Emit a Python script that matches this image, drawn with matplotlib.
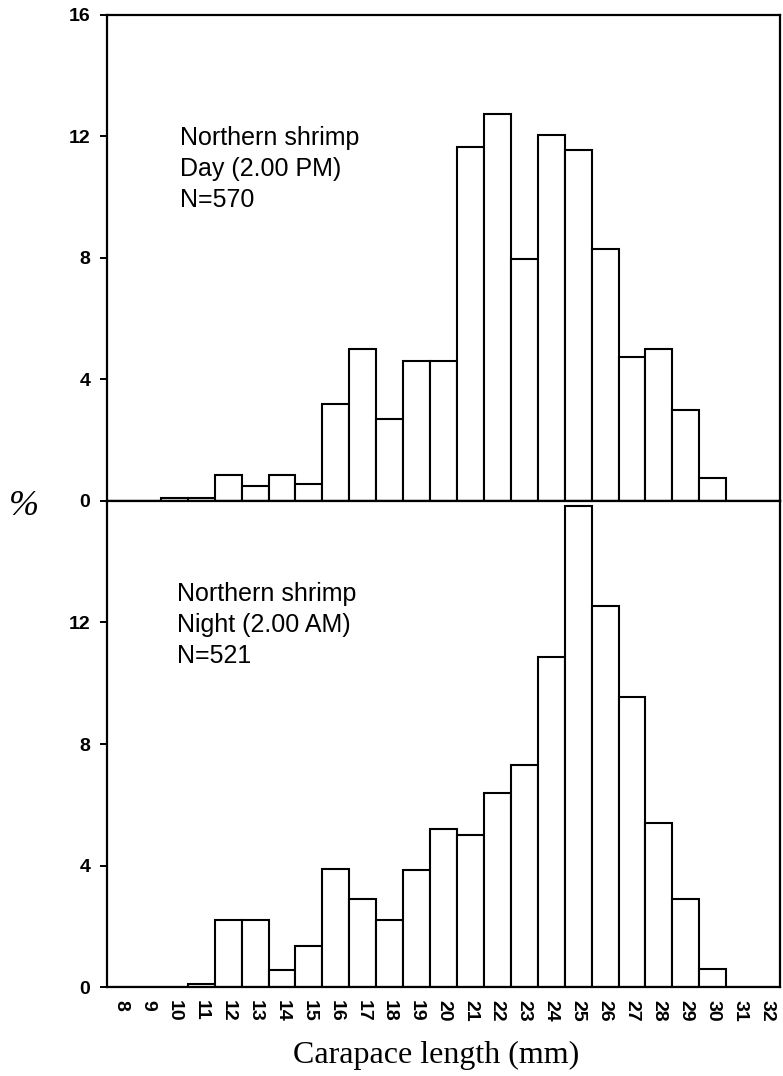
import matplotlib
matplotlib.use("Agg")
import matplotlib.pyplot as plt

# carapace length classes (mm) and percentage frequency
lengths = list(range(8, 33))
day_pct = [0, 0, 0.1, 0.1, 0.85, 0.5, 0.85, 0.55, 3.2, 5.0, 2.7,
           4.6, 4.6, 11.65, 12.75, 7.95, 12.05, 11.55, 8.3, 4.75, 5.0,
           3.0, 0.75, 0, 0]
night_pct = [0, 0, 0, 0.1, 2.2, 2.2, 0.55, 1.35, 3.9, 2.9, 2.2,
             3.85, 5.2, 5.0, 6.4, 7.3, 10.85, 15.85, 12.55, 9.55, 5.4,
             2.9, 0.6, 0, 0]

day_label = "Northern shrimp\nDay (2.00 PM)\nN=570"
night_label = "Northern shrimp\nNight (2.00 AM)\nN=521"

sans = "Liberation Sans"
serif = "Liberation Serif"

fig = plt.figure(figsize=(7.83, 10.76), dpi=100)
ax_top = fig.add_axes([0.1367, 0.5344, 0.8595, 0.4517])
ax_bot = fig.add_axes([0.1367, 0.0827, 0.8595, 0.4517], sharex=ax_top)

for ax, pct in ((ax_top, day_pct), (ax_bot, night_pct)):
    ax.bar(lengths, pct, width=1.0, facecolor="white", edgecolor="black",
           linewidth=1.5)
    ax.set_ylim(0, 16)
    for sp in ax.spines.values():
        sp.set_linewidth(1.6)
    ax.tick_params(axis="y", direction="out", length=5, width=1.4, pad=7)

ax_top.set_xlim(7.5, 32.5)
ax_top.set_yticks([0, 4, 8, 12, 16])
ax_bot.set_yticks([0, 4, 8, 12])
ax_top.tick_params(axis="x", length=0, labelbottom=False)
ax_bot.set_xticks(lengths)
ax_bot.set_xticklabels([str(v) for v in lengths], rotation=270,
                       fontfamily=sans, fontweight="bold", fontsize=14)
ax_bot.tick_params(axis="x", length=0, pad=9)

for ax in (ax_top, ax_bot):
    for lab in ax.get_yticklabels():
        lab.set_fontfamily(sans)
        lab.set_fontweight("bold")
        lab.set_fontsize(14)

ax_top.text(0.108, 0.771, day_label, transform=ax_top.transAxes,
            ha="left", va="top", fontsize=18, fontfamily=sans,
            linespacing=1.36)
ax_bot.text(0.104, 0.833, night_label, transform=ax_bot.transAxes,
            ha="left", va="top", fontsize=18, fontfamily=sans,
            linespacing=1.36)

fig.text(0.557, 0.019, "Carapace length (mm)", ha="center", va="center",
         fontsize=23, fontfamily=serif)
fig.text(0.031, 0.529, "%", ha="center", va="center", fontsize=26,
         fontfamily=serif, fontstyle="italic")

fig.savefig("out.png", dpi=100)
